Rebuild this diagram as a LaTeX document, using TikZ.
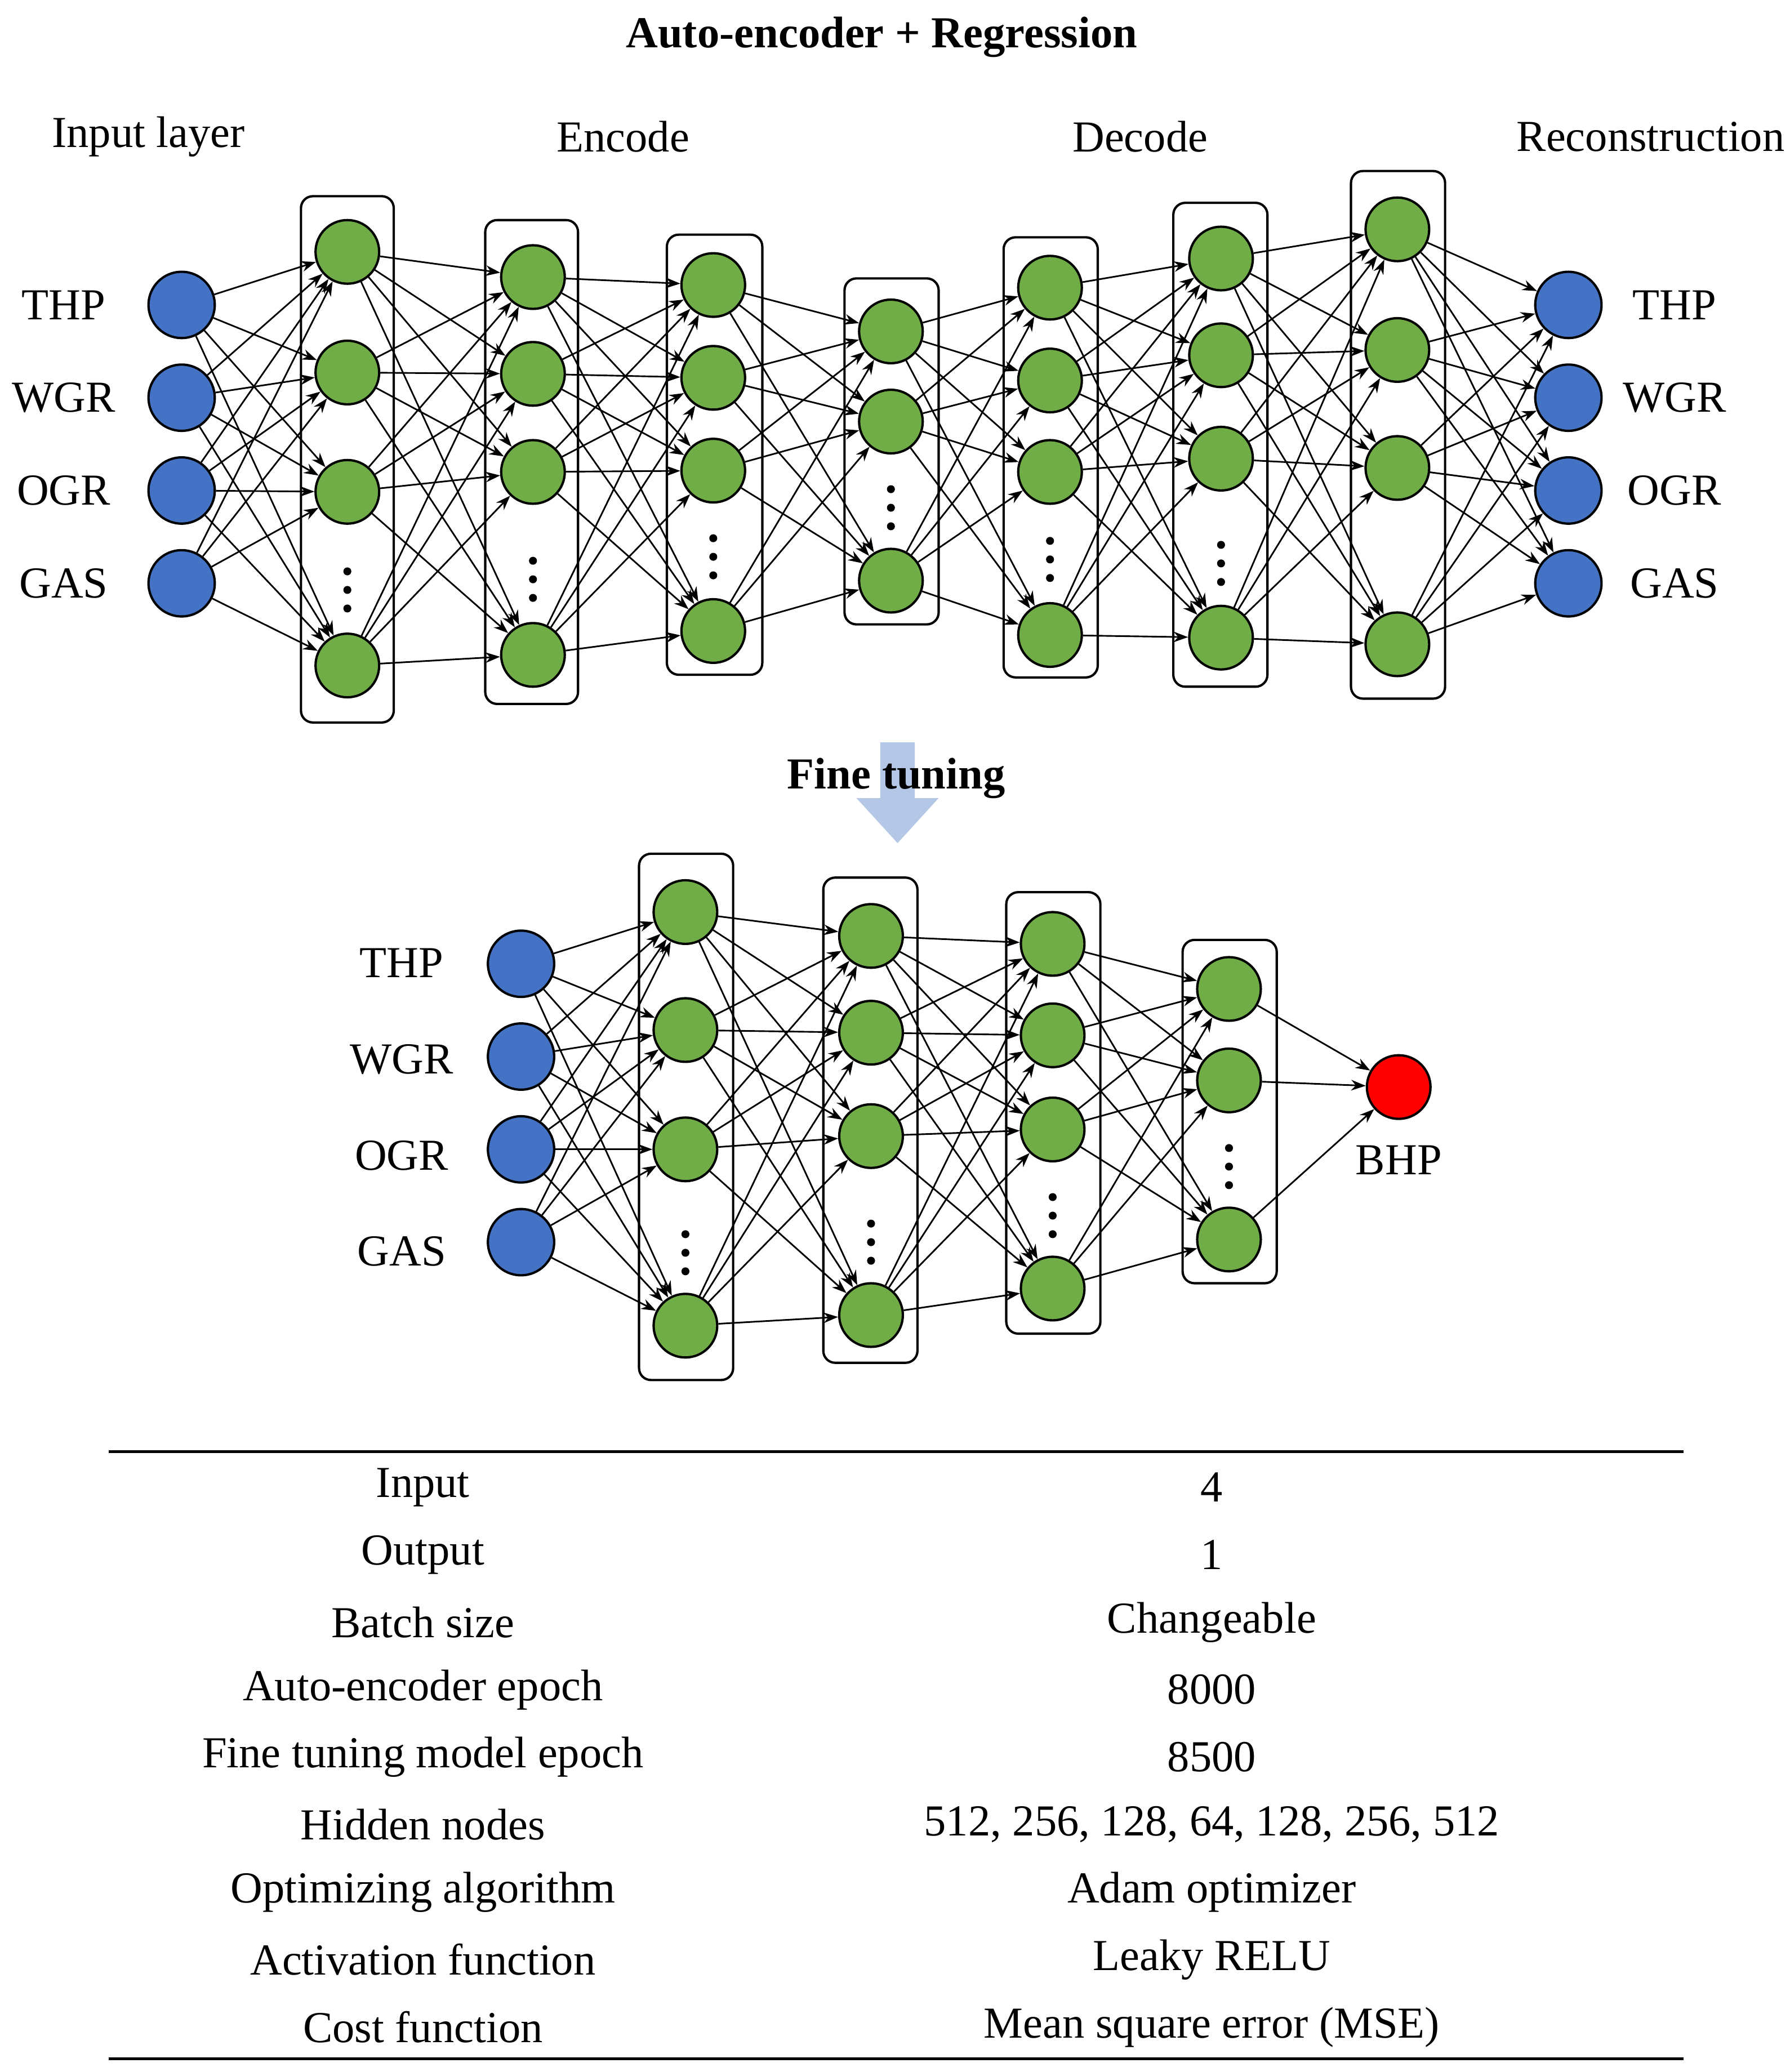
\documentclass[tikz,border=0pt]{standalone}
\usepackage{fontspec}
\setmainfont{Liberation Serif}
\usetikzlibrary{arrows.meta}
\definecolor{bl}{HTML}{4472C4}
\definecolor{gr}{HTML}{70AD47}
\definecolor{ar}{HTML}{B4C7E7}
\begin{document}
\begin{tikzpicture}[x=0.02cm,y=-0.02cm,
 inn/.style={circle,draw,line width=1pt,fill=bl,minimum size=1cm,inner sep=0pt},
 hid/.style={circle,draw,line width=1pt,fill=gr,minimum size=0.96cm,inner sep=0pt},
 outn/.style={circle,draw,line width=1pt,fill=red,minimum size=0.96cm,inner sep=0pt},
 box/.style={draw,line width=1pt,rounded corners=0.18cm},
 conn/.style={line width=0.7pt,-{Stealth[length=0.22cm,width=0.16cm]}},
 lab/.style={font=\fontsize{19}{22}\selectfont},
 dots/.style={}]
\useasboundingbox (0,0) rectangle (1350,1563);
\node[lab,font=\bfseries\fontsize{19}{22}\selectfont] (title) at (665,28) {Auto-encoder + Regression};
\node[lab] (h1) at (112,103) {Input layer};
\node[lab] (h2) at (470,103) {Encode};
\node[lab] (h3) at (860,103) {Decode};
\node[lab] (h4) at (1245,103) {Reconstruction};
% boxes top
\foreach \xa/\xb/\ya/\yb in {227/297/148/545,366/436/166/531,503/575/177/509,637/708/210/471,757/828/179/511,885/956/153/518,1019/1090/129/527}
  \draw[box] (\xa,\ya) rectangle (\xb,\yb);
% boxes bottom
\foreach \xa/\xb/\ya/\yb in {482/553/644/1041,621/692/662/1028,759/830/673/1006,892/963/709/968}
  \draw[box] (\xa,\ya) rectangle (\xb,\yb);
% dots
\foreach \x/\y in {262/445,402/437,538/420,672/383,792/422,921/425,517/945,657/937,794/917,927/880}
  \foreach \d in {-14,0,14} \fill (\x,\y+\d) circle (0.06cm);
% top nodes
\foreach \y [count=\i] in {230,300,370,440} {\node[inn] (t0-\i) at (137,\y) {}; \node[inn] (t8-\i) at (1183,\y) {};}
\foreach \y [count=\i] in {190,281,371,502} \node[hid] (t1-\i) at (262,\y) {};
\foreach \y [count=\i] in {209,282,356,494} \node[hid] (t2-\i) at (402,\y) {};
\foreach \y [count=\i] in {215,285,355,476} \node[hid] (t3-\i) at (538,\y) {};
\foreach \y [count=\i] in {250,318,438} \node[hid] (t4-\i) at (672,\y) {};
\foreach \y [count=\i] in {217,287,356,479} \node[hid] (t5-\i) at (792,\y) {};
\foreach \y [count=\i] in {195,268,346,481} \node[hid] (t6-\i) at (921,\y) {};
\foreach \y [count=\i] in {173,264,353,486} \node[hid] (t7-\i) at (1054,\y) {};
\foreach \a/\na/\b/\nb in {0/4/1/4,1/4/2/4,2/4/3/4,3/4/4/3,4/3/5/4,5/4/6/4,6/4/7/4,7/4/8/4}
  \foreach \i in {1,...,\na} \foreach \j in {1,...,\nb} \draw[conn] (t\a-\i) -- (t\b-\j);
\foreach \t [count=\i] in {THP,WGR,OGR,GAS} {\node[lab] (tl-\i) at (48,{160+70*\i}) {\t}; \node[lab] (tr-\i) at (1263,{160+70*\i}) {\t};}
% fine tuning arrow
\fill[ar] (664,560) -- (690,560) -- (690,602) -- (708,602) -- (677,636) -- (646,602) -- (664,602) -- cycle;
\node[lab,font=\bfseries\fontsize{19}{22}\selectfont] (ft) at (676,587) {Fine tuning};
% bottom nodes
\foreach \y [count=\i] in {727,797,867,937} \node[inn] (b0-\i) at (393,\y) {};
\foreach \y [count=\i] in {688,777,867,1000} \node[hid] (b1-\i) at (517,\y) {};
\foreach \y [count=\i] in {706,779,857,992} \node[hid] (b2-\i) at (657,\y) {};
\foreach \y [count=\i] in {712,781,852,972} \node[hid] (b3-\i) at (794,\y) {};
\foreach \y [count=\i] in {746,815,935} \node[hid] (b4-\i) at (927,\y) {};
\node[outn] (b5-1) at (1055,820) {};
\foreach \a/\na/\b/\nb in {0/4/1/4,1/4/2/4,2/4/3/4,3/4/4/3,4/3/5/1}
  \foreach \i in {1,...,\na} \foreach \j in {1,...,\nb} \draw[conn] (b\a-\i) -- (b\b-\j);
\foreach \t [count=\i] in {THP,WGR,OGR,GAS} \node[lab] (bl-\i) at (303,{654+72.5*\i}) {\t};
\node[lab] (bhp) at (1055,875) {BHP};
% table
\coordinate (l1a) at (82,1095); \coordinate (l1b) at (1270,1095);
\coordinate (l2a) at (82,1553); \coordinate (l2b) at (1270,1553);
\draw[line width=1pt] (l1a) -- (l1b);
\draw[line width=1pt] (l2a) -- (l2b);
\foreach \p/\v [count=\i] in {Input/4,Output/1,Batch size/Changeable,Auto-encoder epoch/8000,Fine tuning model epoch/8500,Hidden nodes/{512, 256, 128, 64, 128, 256, 512},Optimizing algorithm/Adam optimizer,Activation function/Leaky RELU/ tanh,Cost function/Mean square error (MSE)} {
  \node[lab] (p\i) at (319,{1071+50.9*\i}) {\p};
  \node[lab] (v\i) at (914,{1071+50.9*\i}) {\v};}
\end{tikzpicture}
\end{document}
